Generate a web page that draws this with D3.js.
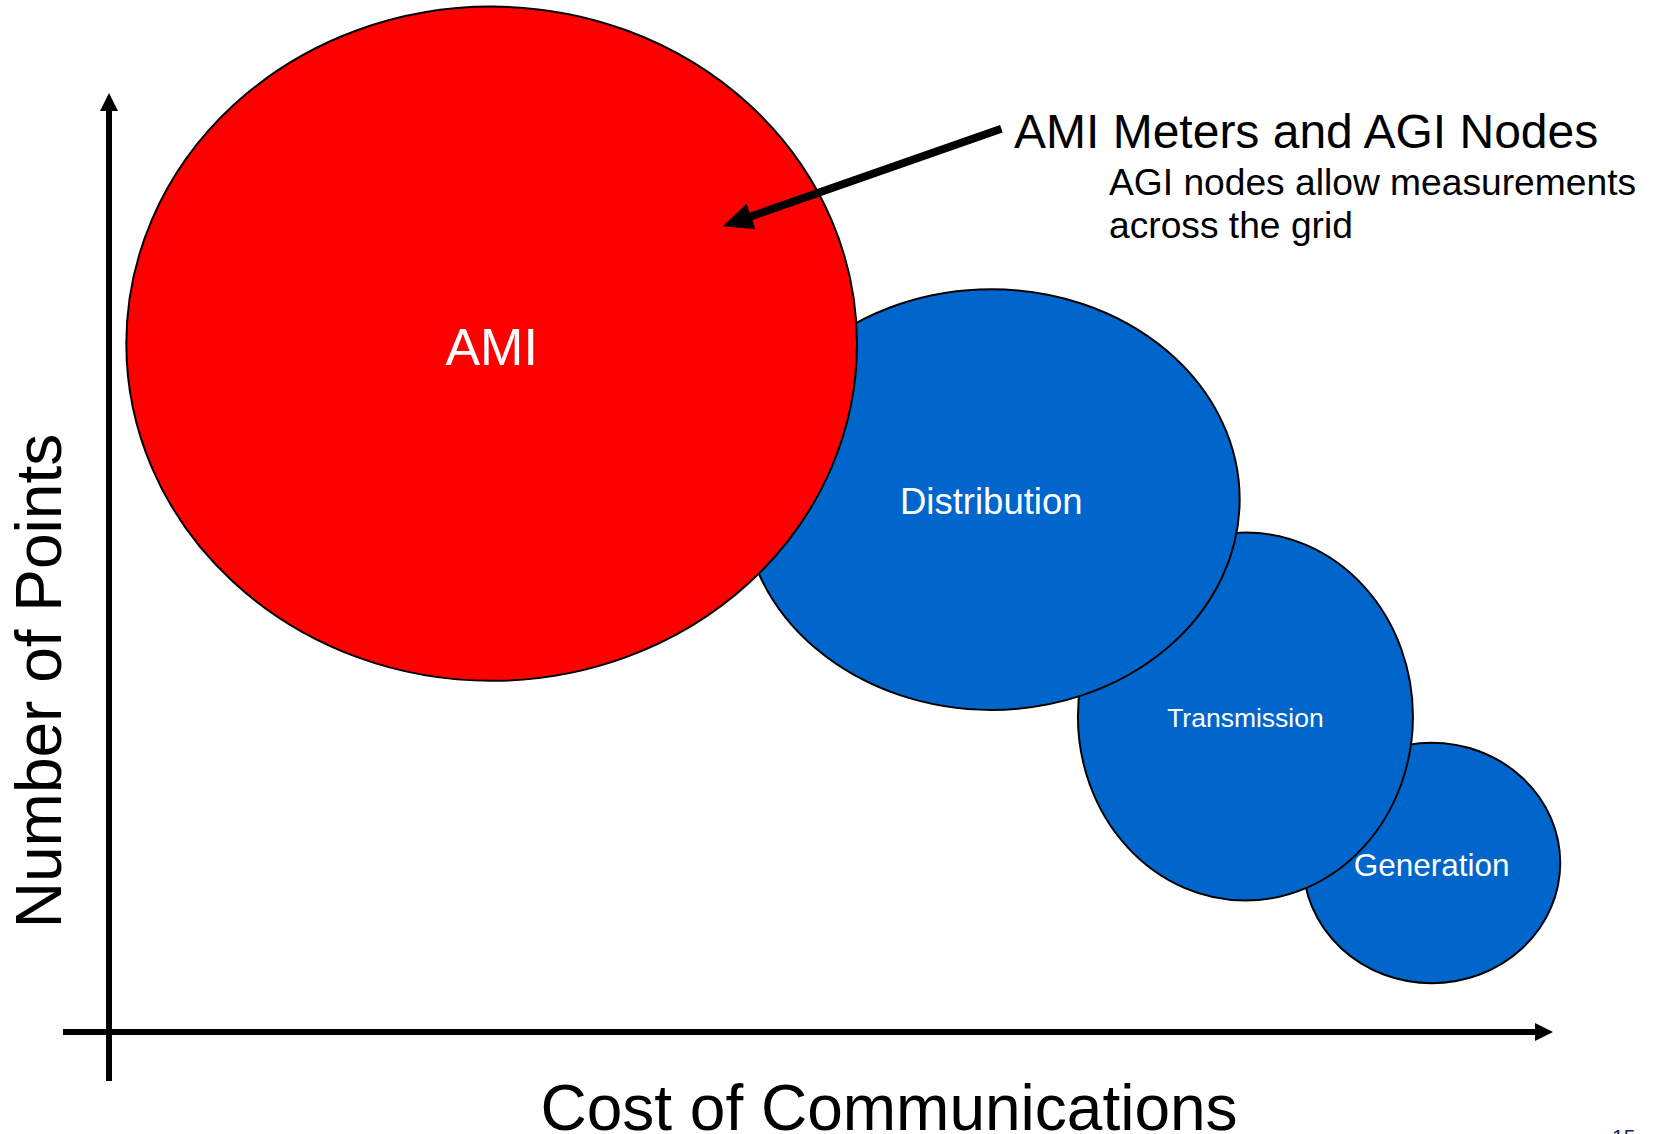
<!DOCTYPE html>
<html>

<head>
    <style>
        body {
            margin: 0;
            background: white;
        }

        text {
            font-family: Arial, "Liberation Sans", sans-serif;
        }
    </style>
</head>

<body>
    <div id="chart"></div>
    <script src="https://d3js.org/d3.v7.min.js"></script>
    <script>

        // bubble data (0-100 concept units on both axes)
        const categories = ["AMI", "Distribution", "Transmission", "Generation"]
        const costValues = [26.5, 61.1, 78.7, 91.6]
        const pointValues = [73.3, 56.7, 33.6, 18.0]
        const costSpread = [25.3, 17.2, 11.6, 8.9]
        const pointSpread = [35.9, 22.4, 19.6, 12.8]

        const xTitle = "Cost of Communications"
        const yTitle = "Number of Points"
        const calloutLines = ["AMI Meters and AGI Nodes", "AGI nodes allow measurements", "across the grid"]
        const calloutFrom = [61.8, 96.2]
        const calloutTo = [42.5, 85.8]

        const width = 1656
        const height = 1134

        let x = d3.scaleLinear().domain([0, 100]).range([109, 1553])
        let y = d3.scaleLinear().domain([0, 100]).range([1032, 93])

        let color = d3.scaleOrdinal()
            .domain(categories)
            .range(["#ff0000", "#0066cc", "#0066cc", "#0066cc"])

        let labelSize = d3.scaleOrdinal()
            .domain(categories)
            .range([52, 36.5, 26.5, 31.5])

        let data = categories.map((c, i) => ({
            name: c,
            cost: costValues[i],
            points: pointValues[i],
            rx: costSpread[i],
            ry: pointSpread[i]
        }))

        let svg = d3.select("#chart")
            .append("svg")
            .attr("width", width)
            .attr("height", height)

        // thick line with a filled triangular head at (x2, y2)
        function arrow(g, x1, y1, x2, y2, w, headLen, headW) {
            const a = Math.atan2(y2 - y1, x2 - x1)
            const bx = x2 - headLen * Math.cos(a)
            const by = y2 - headLen * Math.sin(a)
            const px = -Math.sin(a) * headW / 2
            const py = Math.cos(a) * headW / 2
            g.append("line")
                .attr("x1", x1).attr("y1", y1)
                .attr("x2", bx + Math.cos(a)).attr("y2", by + Math.sin(a))
                .attr("stroke", "#000")
                .attr("stroke-width", w)
            g.append("path")
                .attr("d", `M${x2},${y2}L${bx + px},${by + py}L${bx - px},${by - py}Z`)
                .attr("fill", "#000")
        }

        // axes (plain arrows, no ticks)
        let axes = svg.append("g")
        arrow(axes, x(0), y(0) + 49, x(0), y(100), 6, 18, 18)
        arrow(axes, x(0) - 46, y(0), x(100), y(0), 6, 18, 18)

        // bubbles, smallest first so the bigger ones sit on top
        let bubbles = svg.append("g")
            .selectAll("g")
            .data(data.slice().reverse())
            .enter().append("g")

        bubbles.append("ellipse")
            .attr("cx", d => x(d.cost))
            .attr("cy", d => y(d.points))
            .attr("rx", d => x(d.rx) - x(0))
            .attr("ry", d => y(0) - y(d.ry))
            .attr("fill", d => color(d.name))
            .attr("stroke", "#000")
            .attr("stroke-width", 2)

        bubbles.append("text")
            .attr("x", d => x(d.cost))
            .attr("y", d => y(d.points))
            .attr("dy", "0.4em")
            .attr("text-anchor", "middle")
            .attr("fill", "white")
            .style("font-size", d => labelSize(d.name) + "px")
            .text(d => d.name)

        // callout
        let callout = svg.append("g")
        arrow(callout, x(calloutFrom[0]), y(calloutFrom[1]), x(calloutTo[0]), y(calloutTo[1]), 8, 30, 27)

        callout.append("text")
            .attr("x", 1014)
            .attr("y", 148)
            .style("font-size", "48px")
            .text(calloutLines[0])

        callout.selectAll(".sub")
            .data(calloutLines.slice(1))
            .enter().append("text")
            .attr("class", "sub")
            .attr("x", 1109)
            .attr("y", (d, i) => 195 + i * 43)
            .style("font-size", "37.2px")
            .text(d => d)

        // axis titles
        svg.append("text")
            .attr("x", 889)
            .attr("y", 1130)
            .attr("text-anchor", "middle")
            .style("font-size", "64px")
            .text(xTitle)

        svg.append("text")
            .attr("transform", "translate(61,681) rotate(-90)")
            .attr("text-anchor", "middle")
            .style("font-size", "64px")
            .text(yTitle)

        // slide number, cut off by the bottom edge as in the source slide
        svg.append("text")
            .attr("x", 1612)
            .attr("y", 1144)
            .attr("fill", "#1f2060")
            .style("font-size", "21px")
            .text("15")

    </script>
</body>

</html>
